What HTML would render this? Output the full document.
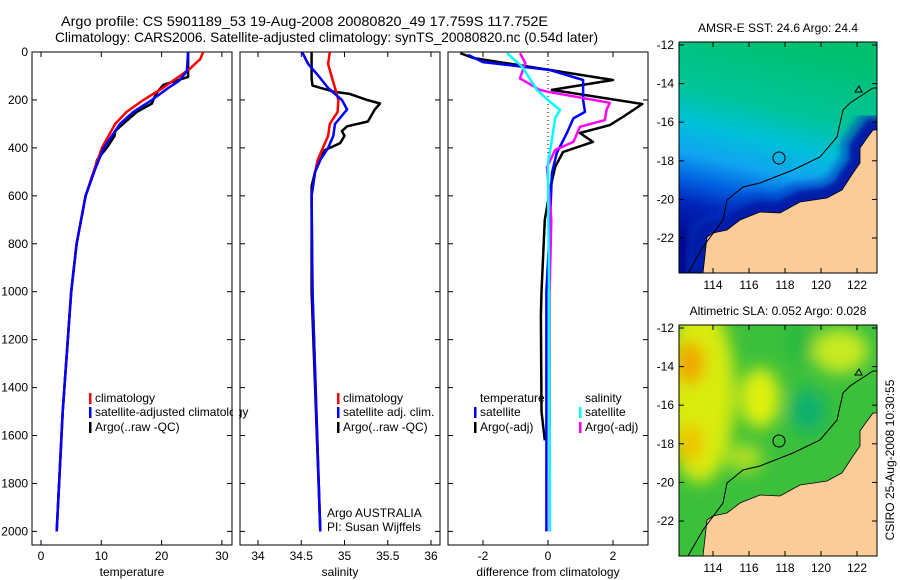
<!DOCTYPE html>
<html><head><meta charset="utf-8"><style>
body{margin:0;background:#fff;}
svg{display:block;font-family:"Liberation Sans",sans-serif;}
text{font-size:12px;fill:#000;}
.ttl{font-size:13.7px;}
</style></head><body>
<svg id="s" width="900" height="580" viewBox="0 0 900 580">
<defs>
<linearGradient id="sstg" x1="0.5" y1="0" x2="0.3" y2="1">
<stop offset="0" stop-color="#00c070"/><stop offset="0.28" stop-color="#00c49a"/>
<stop offset="0.42" stop-color="#00c0d8"/><stop offset="0.55" stop-color="#10a4f0"/>
<stop offset="0.66" stop-color="#0060e0"/><stop offset="0.76" stop-color="#0024b8"/>
<stop offset="0.9" stop-color="#000c90"/>
</linearGradient>
<filter id="bl"><feGaussianBlur stdDeviation="8"/></filter>
<filter id="bl2"><feGaussianBlur stdDeviation="3"/></filter>
<clipPath id="c1"><rect x="679" y="42" width="198" height="231"/></clipPath>
<clipPath id="c2"><rect x="679" y="325" width="198" height="231"/></clipPath>
</defs>
<text class="ttl" x="61" y="26" textLength="487" lengthAdjust="spacingAndGlyphs">Argo profile: CS 5901189_53 19-Aug-2008 20080820_49 17.759S 117.752E</text>
<text class="ttl" x="55" y="42" textLength="543" lengthAdjust="spacingAndGlyphs">Climatology: CARS2006. Satellite-adjusted climatology: synTS_20080820.nc (0.54d later)</text>
<g id="plots"></g>
<g id="maps"></g>
</svg>
<script>
// ---- data ----
const tArgoD=[0,104,137,170,200,215,250,300,330,350,400,450,500,600,800,1000,1500,2000];
const tArgoV=[24.4,24.4,20.3,19.2,18.6,18.4,15.9,13.6,12.3,12.2,10.9,9.3,8.8,7.4,5.9,5.0,3.6,2.6];
const tClimD=[0,30,50,70,100,150,200,250,300,400,500,600,800,1000,1500,2000];
const tClimV=[26.9,26.4,25.5,24.7,23.0,20.2,17.0,14.2,12.3,10.1,8.7,7.4,5.9,5.0,3.6,2.6];
const tSatD=[0,80,120,150,200,250,300,400,500,600,800,1000,1500,2000];
const tSatV=[24.4,24.2,22.9,21.1,18.4,15.3,13.1,10.4,8.8,7.4,5.9,5.0,3.6,2.6];
const sArgoD=[0,110,140,165,175,200,215,240,290,310,330,350,380,410,500,560,1000,2000];
const sArgoV=[34.62,34.62,34.63,34.87,35.06,35.26,35.41,35.35,35.27,35.03,34.97,35.0,34.95,34.77,34.66,34.62,34.62,34.72];
const sClimD=[0,50,100,150,200,250,300,350,400,450,500,600,1000,2000];
const sClimV=[34.83,34.81,34.85,34.89,34.93,34.92,34.83,34.81,34.75,34.69,34.66,34.62,34.63,34.72];
const sSatD=[0,50,100,150,200,240,300,350,400,450,500,600,1000,2000];
const sSatV=[34.51,34.58,34.70,34.81,34.97,35.03,34.89,34.87,34.81,34.72,34.66,34.62,34.63,34.72];
const dTSatD=[12,42,75,117,200,250,277,338,421,505,713,1000,1500,2000];
const dTSatV=[-2.46,-2.0,0.06,1.08,1.08,1.14,0.78,0.58,0.27,0.12,0.06,-0.05,-0.05,-0.05];
const dTArgD=[5,25,75,117,158,217,271,305,338,375,417,480,575,700,1000,1100,1500,1620];
const dTArgV=[-2.7,-2.3,0.06,2.0,0.12,2.9,2.3,1.9,0.98,1.38,0.46,0.22,0.06,-0.1,-0.2,-0.22,-0.2,-0.1];
const dSArgD=[5,46,110,158,166,212,242,284,312,360,375,409,480,700,1000,2000];
const dSArgV=[-0.86,-0.7,-0.86,-0.25,0,1.9,1.8,1.75,0.98,0.83,0.78,0.22,-0.03,0.1,0.05,0.05];
const dSSatD=[5,61,158,208,242,276,367,463,1000,2000];
const dSSatV=[-1.26,-0.8,-0.34,0.06,0.37,0.22,0.12,0.0,0.03,0.06];
const depthTicks=[0,200,400,600,800,1000,1200,1400,1600,1800,2000];
const tTicks=[0,10,20,30];
const sTicks=[34,34.5,35,35.5,36];
const sTickLabels=["34","34.5","35","35.5","36"];
const dTicks=[-2,0,2];
const latTicks=[12,14,16,18,20,22];
const lonTicks=[114,116,118,120,122];
// ---- scales ----
const yD=d=>52+d*0.2397;
const xT=t=>41+t*6.03;
const xS=s=>258+(s-34)*86.5;
const xV=v=>548+v*32.5;
const NS='http://www.w3.org/2000/svg';
const G=document.getElementById('plots');
function mk(tag,at,par){const e=document.createElementNS(NS,tag);for(const k in at)e.setAttribute(k,at[k]);(par||G).appendChild(e);return e;}
function line(ds,vs,sx,col,name,w){
 const p=ds.map((d,i)=>sx(vs[i]).toFixed(1)+','+yD(d).toFixed(1)).join(' ');
 const e=mk('polyline',{points:p,fill:'none',stroke:col,'stroke-width':w||2.5,'stroke-linejoin':'round'});
 
 
}
const panels=[[32,232,'temperature'],[240,440,'salinity'],[448,648,'difference from climatology']];
panels.forEach(([l,r,lab],pi)=>{
 const b=mk('rect',{x:l,y:52,width:r-l,height:493,fill:'none',stroke:'#000','stroke-width':1});
 
 
 depthTicks.forEach(d=>{mk('line',{x1:l,x2:l+5,y1:yD(d),y2:yD(d),stroke:'#000'});mk('line',{x1:r-5,x2:r,y1:yD(d),y2:yD(d),stroke:'#000'});});
 const t=mk('text',{x:(l+r)/2,y:576,'text-anchor':'middle'});t.textContent=lab;
 
 
});
depthTicks.forEach(d=>{const t=mk('text',{x:28,y:yD(d)+4,'text-anchor':'end'});t.textContent=d;
 
 });
function xticks(arr,labs,sx){arr.forEach((v,i)=>{const x=sx(v);mk('line',{x1:x,x2:x,y1:52,y2:57,stroke:'#000'});mk('line',{x1:x,x2:x,y1:540,y2:545,stroke:'#000'});
 const t=mk('text',{x:x,y:560,'text-anchor':'middle'});t.textContent=labs[i];
 
 });}
xticks(tTicks,tTicks.map(String),xT);
xticks(sTicks,sTickLabels,xS);
xticks(dTicks,dTicks.map(String),xV);
mk('line',{x1:xV(0),x2:xV(0),y1:52,y2:175,stroke:'#000','stroke-dasharray':'1,3'});
line(tArgoD,tArgoV,xT,'#000','temp-argo-line');
line(tClimD,tClimV,xT,'#f00','temp-climatology-line');
line(tSatD,tSatV,xT,'#00f','temp-satellite-line');
line(sArgoD,sArgoV,xS,'#000','sal-argo-line');
line(sClimD,sClimV,xS,'#f00','sal-climatology-line');
line(sSatD,sSatV,xS,'#00f','sal-satellite-line');
line(dTArgD,dTArgV,xV,'#000','diff-temp-argo-line');
line(dTSatD,dTSatV,xV,'#00f','diff-temp-satellite-line');
line(dSArgD,dSArgV,xV,'#f0f','diff-sal-argo-line');
line(dSSatD,dSSatV,xV,'#0ff','diff-sal-satellite-line');
function leg(x,y,col,txt){if(col)mk('rect',{x:x,y:y-9,width:2.5,height:11,fill:col});const t=mk('text',{x:x+6,y:y});t.textContent=txt;
 
 }
leg(89,402,'#f00','climatology');leg(89,416,'#00f','satellite-adjusted climatology');leg(89,431,'#000','Argo(..raw -QC)');
leg(337,402,'#f00','climatology');leg(337,416,'#00f','satellite adj. clim.');leg(337,431,'#000','Argo(..raw -QC)');
leg(474,402,null,'temperature');leg(474,416,'#00f','satellite');leg(474,431,'#000','Argo(-adj)');
leg(579,402,null,'salinity');leg(579,416,'#0ff','satellite');leg(579,431,'#f0f','Argo(-adj)');
mk('rect',{x:233,y:405,width:6,height:14,fill:'#fff'});
let t1=mk('text',{x:327,y:517});t1.textContent='Argo AUSTRALIA';
let t2=mk('text',{x:327,y:531});t2.textContent='PI: Susan Wijffels';
// ---- maps ----
const M=document.getElementById('maps');
const landPts="703,273 707,237 713,233 727,230 740,220 760,212 780,213 800,202 827,198 842,190 853,173 860,163 860,148 867,138 873,130 877,130 877,273";
const isoPts="688,273 703,247 723,220 727,200 743,187 760,183 793,170 820,157 837,137 843,110 850,103 873,88 877,88";
function mapPanel(off,title,kind){
 const g=mk('g',{},M);
 
 
 const inner=mk('g',{'clip-path':off?'url(#c2)':'url(#c1)'},g);
 const tg=mk('g',{transform:'translate(0,'+off+')'},inner);
 if(kind==='sst'){
  mk('rect',{x:679,y:42,width:198,height:231,fill:'url(#sstg)'},tg);
  const nb=mk('g',{filter:'url(#bl2)'},tg);
  mk('polyline',{points:landPts,fill:'none',stroke:'#000c90','stroke-width':22},nb);
  mk('polyline',{points:landPts,fill:'none',stroke:'#0030c0','stroke-width':40,opacity:0.5},nb);
 }else{
  mk('rect',{x:679,y:42,width:198,height:231,fill:'#3cc03c'},tg);
  const bg=mk('g',{filter:'url(#bl)'},tg);
  mk('ellipse',{cx:700,cy:110,rx:35,ry:90,fill:'#d8ec10'},bg);
  mk('ellipse',{cx:690,cy:80,rx:14,ry:22,fill:'#f0a000'},bg);
  mk('ellipse',{cx:690,cy:160,rx:12,ry:20,fill:'#f0c000'},bg);
  mk('ellipse',{cx:760,cy:115,rx:20,ry:30,fill:'#e0f010'},bg);
  mk('ellipse',{cx:840,cy:68,rx:28,ry:22,fill:'#c8ea20'},bg);
  mk('ellipse',{cx:808,cy:128,rx:18,ry:22,fill:'#10b070'},bg);
  mk('ellipse',{cx:745,cy:175,rx:18,ry:14,fill:'#b0e020'},bg);
  mk('ellipse',{cx:800,cy:60,rx:12,ry:20,fill:'#20b840'},bg);
 }
 mk('polygon',{points:landPts,fill:'#fccc98'},tg);
 mk('polyline',{points:landPts,fill:'none',stroke:'#000','stroke-width':0.8},tg);
 mk('polyline',{points:isoPts,fill:'none',stroke:'#000','stroke-width':1},tg);
 mk('circle',{cx:779,cy:158,r:6,fill:'none',stroke:'#000'},tg);
 mk('polygon',{points:"855,92 859,86 862,92",fill:'none',stroke:'#000'},tg);
 mk('rect',{x:679,y:42+off,width:198,height:231,fill:'none',stroke:'#000'},g);
 latTicks.forEach(l=>{const y=45+(l-12)*19.3+off;mk('line',{x1:679,x2:684,y1:y,y2:y,stroke:'#000'},g);mk('line',{x1:872,x2:877,y1:y,y2:y,stroke:'#000'},g);
  const t=mk('text',{x:674,y:y+4,'text-anchor':'end'},g);t.textContent='-'+l;
  
  });
 lonTicks.forEach(lo=>{const x=713+(lo-114)*18;mk('line',{x1:x,x2:x,y1:42+off,y2:47+off,stroke:'#000'},g);mk('line',{x1:x,x2:x,y1:268+off,y2:273+off,stroke:'#000'},g);
  const t=mk('text',{x:x,y:289+off,'text-anchor':'middle'},g);t.textContent=lo;
  
  });
 const tt=mk('text',{x:778,y:32+off,'text-anchor':'middle'},g);tt.textContent=title;
 
 
}
mapPanel(0,'AMSR-E SST: 24.6 Argo: 24.4','sst');
mapPanel(283,'Altimetric SLA: 0.052 Argo: 0.028','sla');
const cs=mk('text',{x:0,y:0,transform:'translate(894,460) rotate(-90)','text-anchor':'middle'},M);cs.textContent='CSIRO 25-Aug-2008 10:30:55';


</script>
</body></html>
